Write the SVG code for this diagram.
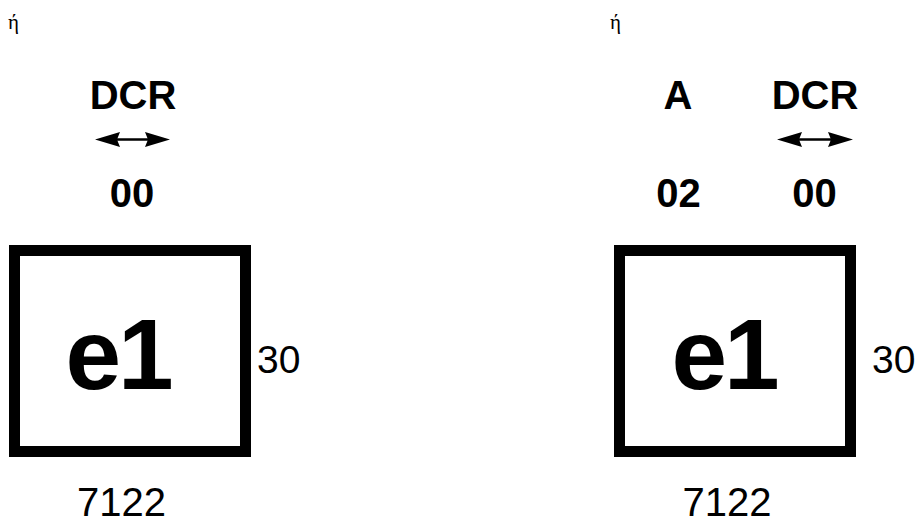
<svg xmlns="http://www.w3.org/2000/svg" width="920" height="522" viewBox="0 0 920 522">
<style>
.b{font-family:"Liberation Sans",Arial,sans-serif;font-weight:bold;fill:#000;text-anchor:middle}
.r{font-family:"Liberation Sans",Arial,sans-serif;fill:#000}
.g{font-family:"Liberation Serif","DejaVu Serif",serif;fill:#000;font-size:21px}
.box{fill:#fff;stroke:#000;stroke-width:11}
.ln{stroke:#000;stroke-width:2.5;fill:none}
</style>
<defs>
<polygon id="hl" points="0,0 25,-7.5 22,0 25,7.5" fill="#000"/>
<polygon id="hr" points="0,0 -25,-7.5 -22,0 -25,7.5" fill="#000"/>
</defs>
<rect width="920" height="522" fill="#fff"/>
<g id="connectors">
<g id="arrow-left">
<line class="ln" x1="110" y1="139.5" x2="155" y2="139.5"/>
<use href="#hl" x="95" y="139.5"/>
<use href="#hr" x="170" y="139.5"/>
</g>
<g id="arrow-right">
<line class="ln" x1="792" y1="139.5" x2="838" y2="139.5"/>
<use href="#hl" x="777" y="139.5"/>
<use href="#hr" x="853" y="139.5"/>
</g>
</g>
<g id="left-panel">
<text class="g" x="8" y="29">ή</text>
<text class="b" x="133" y="109" font-size="40">DCR</text>
<text class="b" x="132" y="207" font-size="40">00</text>
<g id="box-left">
<rect class="box" x="14.5" y="250.5" width="231" height="201"/>
<text class="b" x="118" y="389" font-size="100" letter-spacing="-3">e1</text>
</g>
<text class="r" x="257" y="373" font-size="39">30</text>
<text class="r" x="121.5" y="516" font-size="40" text-anchor="middle">7122</text>
</g>
<g id="right-panel">
<text class="g" x="610" y="29">ή</text>
<text class="b" x="678" y="109" font-size="40">A</text>
<text class="b" x="815" y="109" font-size="40">DCR</text>
<text class="b" x="678.5" y="207" font-size="40">02</text>
<text class="b" x="814.5" y="207" font-size="40">00</text>
<g id="box-right">
<rect class="box" x="619.5" y="250.5" width="231" height="201"/>
<text class="b" x="724" y="389" font-size="100" letter-spacing="-3">e1</text>
</g>
<text class="r" x="872" y="373" font-size="39">30</text>
<text class="r" x="727" y="516" font-size="40" text-anchor="middle">7122</text>
</g>
</svg>
